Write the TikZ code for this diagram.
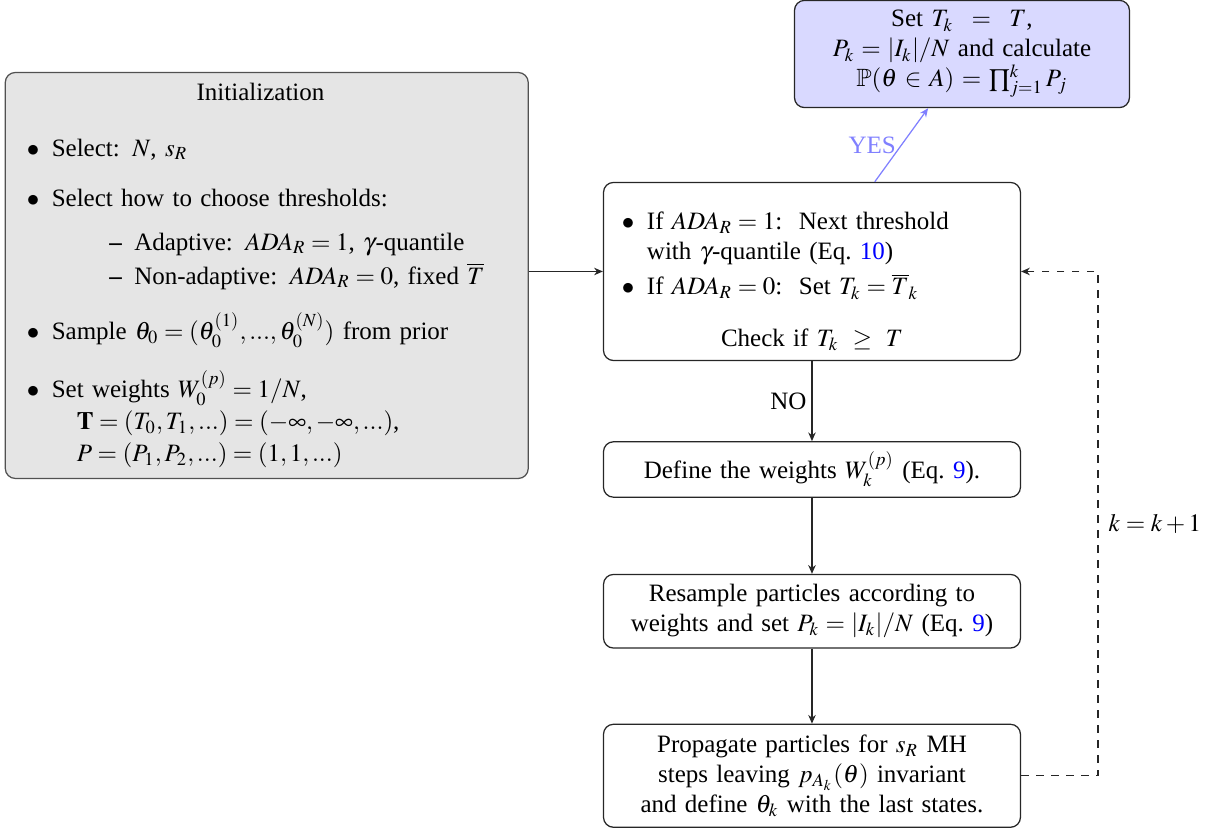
\documentclass[tikz,border=0pt]{standalone}
\usepackage{amsmath,amssymb}
\usepackage{mathptmx}
\usepackage[no-math]{fontspec}
\setmainfont{Liberation Serif}
\usepackage{enumitem}
\usetikzlibrary{arrows.meta,positioning,calc}
\definecolor{ink}{HTML}{262626}
\definecolor{initfill}{HTML}{E5E5E5}
\definecolor{endfill}{HTML}{D9D9FF}
\definecolor{yes}{HTML}{8080FF}
\newcommand{\eqlink}[1]{\textcolor{blue}{#1}}
\setlist[itemize,1]{label=$\bullet$}

\begin{document}
\begin{tikzpicture}[
  >={Stealth[length=3.5pt,width=3pt]},
  blk/.style={draw=ink, line width=0.5pt, rounded corners=4pt, align=center, text width=158pt, minimum width=166.8pt, inner sep=4pt},
  pw/.style={->, draw=ink, line width=0.5pt},
  lp/.style={->, draw=ink, line width=0.5pt, dashed},
  ys/.style={->, draw=yes, line width=0.5pt},
  lbl/.style={inner sep=2pt}]
\useasboundingbox (-11.416,-7.852) rectangle (5.638,3.817);
\node[blk, align=left, minimum height=68.4pt] (check) at (0,0)
  {\vspace*{3pt}
   \begin{itemize}[leftmargin=13pt, nosep, itemsep=2pt]
   \item If $ADA_R=1$:\ \ Next threshold\\ with $\gamma$-quantile (Eq.~\eqlink{10})
   \item If $ADA_R=0$:\ \ Set $T_k=\overline{T}_k$
   \end{itemize}
   \vspace{8.5pt}
   {\centering Check if $T_k\ \geq\ T$\par}};
\node[blk, below=32pt of check] (weights) {Define the weights $W_k^{(p)}$ (Eq.~\eqlink{9}).};
\node[blk, below=30.4pt of weights] (resample) {Resample particles according to\\ weights and set $P_k=|I_k|/N$ (Eq.~\eqlink{9})};
\node[blk, minimum height=41.2pt, below=30pt of resample] (prop) {Propagate particles for $s_R$ MH\\ steps leaving $p_{A_k}(\theta)$ invariant\\ and define $\theta_k$ with the last states.};
\node[blk, fill=initfill, draw=ink!80, align=left, text width=201pt, minimum width=209.2pt, minimum height=162.4pt, left=29.6pt of check, yshift=-1.6pt] (init)
  {\vspace*{1pt}{\centering Initialization\hspace*{5pt}\par}
   \begin{itemize}[leftmargin=14.5pt, topsep=7.4pt, itemsep=8.2pt, parsep=0pt]
   \item Select: $N$, $s_R$
   \item Select how to choose thresholds:
     \begin{itemize}[leftmargin=33pt, topsep=5.4pt, itemsep=1.6pt, parsep=0pt]
     \item Adaptive: $ADA_R=1$, $\gamma$-quantile
     \item Non-adaptive: $ADA_R=0$, fixed $\overline{T}$
     \end{itemize}
   \item Sample $\theta_0=(\theta_0^{(1)},...,\theta_0^{(N)})$ from prior
   \item Set weights $W_0^{(p)}=1/N$,\\[0.8pt]
     \hspace*{10pt}$\mathbf{T}=(T_0,T_1,...)=(-\infty,-\infty,...)$,\\[0.8pt]
     \hspace*{10pt}$P=(P_1,P_2,...)=(1,1,...)$
   \end{itemize}};
\node[blk, fill=endfill, text width=126pt, minimum width=134pt, minimum height=42.8pt] (done) at ($(check.center)+(60pt,87pt)$)
  {Set $T_k\;=\;T$,\\ $P_k=|I_k|/N$ and calculate\\ $\mathbb{P}(\theta\in A)=\prod_{j=1}^{k}P_j$};
\coordinate (loopx) at ($(check.east)+(30.8pt,0)$);
% connectors
\draw[pw] (init.east |- check.west) -- (check.west);
\draw[pw] (check) -- node[lbl, left] {NO} (weights);
\draw[pw] (weights) -- (resample);
\draw[pw] (resample) -- (prop);
\draw[ys] (check.55) -- node[lbl, left, text=yes] {YES} (done.238);
\draw[lp] (prop.east) -- (prop.east -| loopx) -- node[lbl, right=2pt] {$k=k+1$} (check.east -| loopx) -- (check.east);
\end{tikzpicture}
\end{document}
